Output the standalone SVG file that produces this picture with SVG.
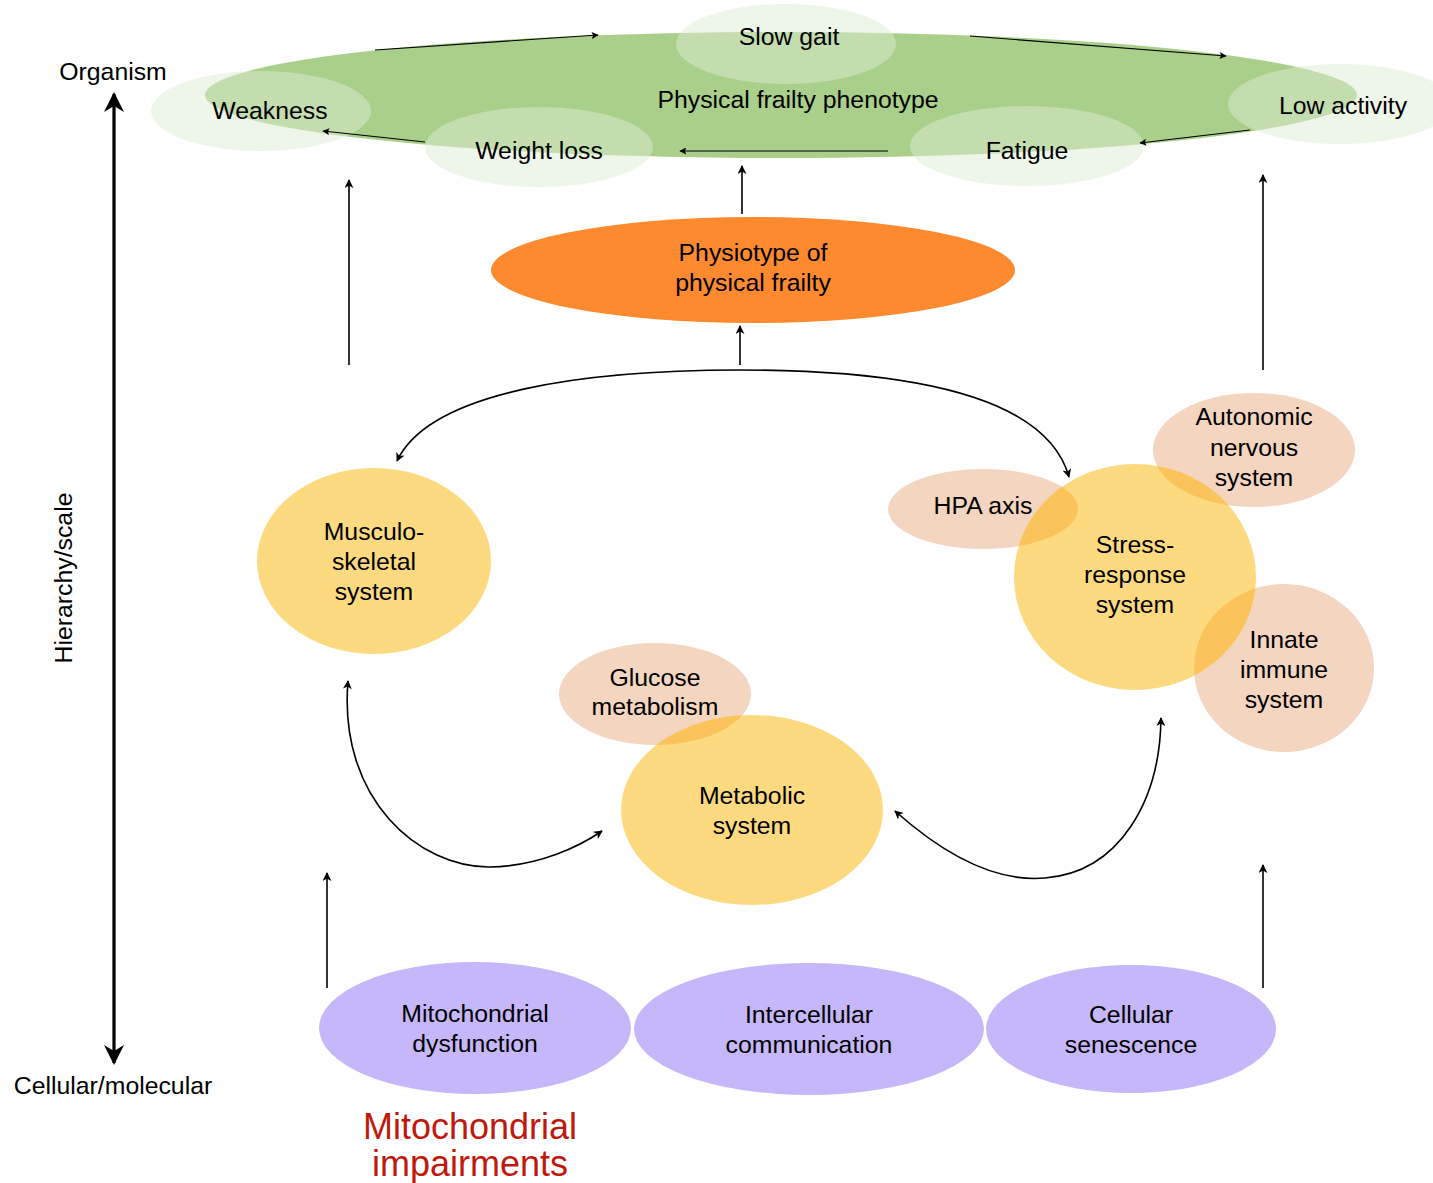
<svg xmlns="http://www.w3.org/2000/svg" width="1433" height="1183" viewBox="0 0 1433 1183">
<style>
text{font-family:"Liberation Sans",Arial,sans-serif;font-size:24.8px;fill:#000;text-anchor:middle}
.lg{fill:#ddebd4;fill-opacity:0.5}
.pe{fill:#f4d5c0}
.ye{fill:#fdda80}
.ov{fill:#fac35c}
.pu{fill:#c5b7fa}
.ln{fill:none;stroke:#000;stroke-width:1.6}
.th{fill:none;stroke:#000;stroke-width:1.1}
.red{fill:#c0180c;font-size:36px}
</style>
<defs>
<marker id="ah" viewBox="0 0 10 10" refX="9" refY="5" markerWidth="9" markerHeight="9" markerUnits="userSpaceOnUse" orient="auto-start-reverse">
<path d="M0,0 L10,5 L0,10 L3,5 Z" fill="#000"/>
</marker>
<marker id="as" viewBox="0 0 10 10" refX="9" refY="5" markerWidth="8" markerHeight="7" markerUnits="userSpaceOnUse" orient="auto-start-reverse">
<path d="M0,0 L10,5 L0,10 L2,5 Z" fill="#000"/>
</marker>
<marker id="ab" viewBox="0 0 10 10" refX="9" refY="5" markerWidth="22" markerHeight="20" markerUnits="userSpaceOnUse" orient="auto-start-reverse">
<path d="M0,0 L10,5 L0,10 L3,5 Z" fill="#000"/>
</marker>
<clipPath id="cStress"><ellipse cx="1135" cy="577" rx="121" ry="113"/></clipPath>
<clipPath id="cMeta"><ellipse cx="752" cy="810" rx="131" ry="95"/></clipPath>
</defs>

<g id="phenotype">
<ellipse cx="781" cy="95" rx="576" ry="63" fill="#a9cf8b"/>
<text x="798" y="108">Physical frailty phenotype</text>
</g>
<g id="slow-gait"><ellipse class="lg" cx="786" cy="44" rx="110" ry="40"/><text x="789" y="45">Slow gait</text></g>
<g id="weakness"><ellipse class="lg" cx="261" cy="111" rx="110" ry="40"/><text x="270" y="119">Weakness</text></g>
<g id="weight-loss"><ellipse class="lg" cx="539" cy="147" rx="114" ry="40"/><text x="539" y="159">Weight loss</text></g>
<g id="fatigue"><ellipse class="lg" cx="1027" cy="146" rx="117" ry="40"/><text x="1027" y="159">Fatigue</text></g>
<g id="low-activity"><ellipse class="lg" cx="1340" cy="104" rx="112" ry="40"/><text x="1343" y="114">Low activity</text></g>

<g id="physiotype">
<ellipse cx="753" cy="270" rx="262" ry="53" fill="#fd8a2f"/>
<text x="753" y="261">Physiotype of</text>
<text x="753" y="291">physical frailty</text>
</g>

<g id="musculoskeletal">
<ellipse class="ye" cx="374" cy="561" rx="117" ry="93"/>
<text x="374" y="540">Musculo-</text><text x="374" y="570">skeletal</text><text x="374" y="600">system</text>
</g>

<g id="hpa"><ellipse class="pe" cx="983" cy="509" rx="95" ry="40"/></g>
<g id="autonomic"><ellipse class="pe" cx="1254" cy="450" rx="101" ry="57"/></g>
<g id="innate"><ellipse class="pe" cx="1284" cy="668" rx="90" ry="84"/></g>
<g id="stress">
<ellipse class="ye" cx="1135" cy="577" rx="121" ry="113"/>
<g clip-path="url(#cStress)">
<ellipse class="ov" cx="983" cy="509" rx="95" ry="40"/>
<ellipse class="ov" cx="1254" cy="450" rx="101" ry="57"/>
<ellipse class="ov" cx="1284" cy="668" rx="90" ry="84"/>
</g>
<text x="1135" y="553">Stress-</text><text x="1135" y="583">response</text><text x="1135" y="613">system</text>
</g>
<text x="983" y="514">HPA axis</text>
<text x="1254" y="425">Autonomic</text><text x="1254" y="456">nervous</text><text x="1254" y="486">system</text>
<text x="1284" y="648">Innate</text><text x="1284" y="678">immune</text><text x="1284" y="708">system</text>

<g id="glucose"><ellipse class="pe" cx="655" cy="694" rx="96" ry="51"/></g>
<g id="metabolic">
<ellipse class="ye" cx="752" cy="810" rx="131" ry="95"/>
<g clip-path="url(#cMeta)"><ellipse class="ov" cx="655" cy="694" rx="96" ry="51"/></g>
<text x="752" y="804">Metabolic</text><text x="752" y="834">system</text>
</g>
<text x="655" y="686">Glucose</text><text x="655" y="715">metabolism</text>

<g id="mito-dysfunction"><ellipse class="pu" cx="475" cy="1028" rx="156" ry="66"/><text x="475" y="1022">Mitochondrial</text><text x="475" y="1052">dysfunction</text></g>
<g id="intercellular"><ellipse class="pu" cx="809" cy="1029" rx="175" ry="66"/><text x="809" y="1023">Intercellular</text><text x="809" y="1053">communication</text></g>
<g id="senescence"><ellipse class="pu" cx="1131" cy="1029" rx="145" ry="64"/><text x="1131" y="1023">Cellular</text><text x="1131" y="1053">senescence</text></g>

<g id="axis">
<line x1="114" y1="94" x2="114" y2="1063" stroke="#000" stroke-width="3.2" marker-start="url(#ab)" marker-end="url(#ab)"/>
<text x="113" y="80">Organism</text>
<text x="113" y="1094">Cellular/molecular</text>
<text transform="translate(72,578) rotate(-90)" x="0" y="0">Hierarchy/scale</text>
</g>

<g id="connectors">
<line class="th" x1="375" y1="50" x2="598" y2="35" marker-end="url(#as)"/>
<line class="th" x1="970" y1="36" x2="1226" y2="56" marker-end="url(#as)"/>
<line class="th" x1="1250" y1="130" x2="1140" y2="143" marker-end="url(#as)"/>
<line class="th" x1="888" y1="151" x2="680" y2="151" marker-end="url(#as)"/>
<line class="th" x1="425" y1="142" x2="323" y2="131" marker-end="url(#as)"/>
<line class="ln" x1="742" y1="214" x2="742" y2="166" marker-end="url(#ah)"/>
<line class="ln" x1="740" y1="365" x2="740" y2="326" marker-end="url(#ah)"/>
<line class="ln" x1="349" y1="365" x2="349" y2="180" marker-end="url(#ah)"/>
<line class="ln" x1="1263" y1="370" x2="1263" y2="175" marker-end="url(#ah)"/>
<line class="ln" x1="327" y1="988" x2="327" y2="873" marker-end="url(#ah)"/>
<line class="ln" x1="1263" y1="988" x2="1263" y2="865" marker-end="url(#ah)"/>
<path class="ln" d="M397,461 C430,390 590,370 740,370 C890,370 1045,390 1069,477" marker-start="url(#ah)" marker-end="url(#ah)"/>
<path class="ln" d="M348,681 C338,800 420,868 490,867 C540,866 580,846 602,831" marker-start="url(#ah)" marker-end="url(#ah)"/>
<path class="ln" d="M895,811 C950,860 1000,882 1045,878 C1120,872 1160,800 1161,718" marker-start="url(#ah)" marker-end="url(#ah)"/>
</g>

<text class="red" x="470" y="1139">Mitochondrial</text>
<text class="red" x="470" y="1176">impairments</text>
</svg>
